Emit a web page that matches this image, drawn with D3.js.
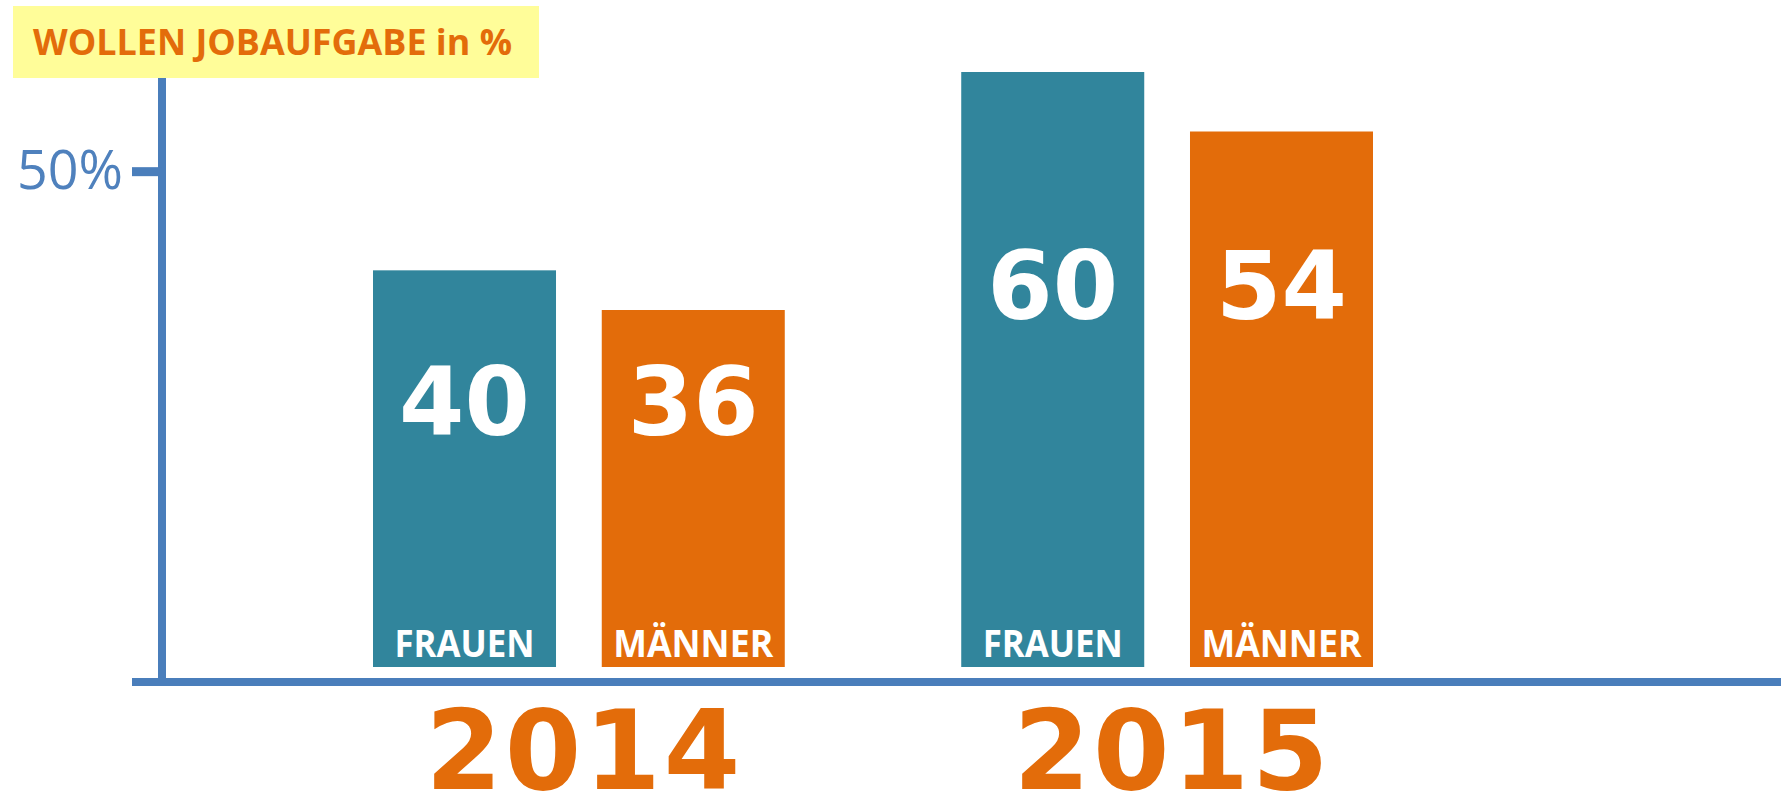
<!DOCTYPE html>
<html>
<head>
<meta charset="utf-8">
<script src="https://cdn.jsdelivr.net/npm/d3@7"></script>
<style>
  body { margin: 0; background: #fff; }
  svg { display: block; }
</style>
</head>
<body>
<svg id="chart" width="1785" height="795"></svg>
<script>
// data
const years = ["2014", "2015"];
const genders = ["FRAUEN", "MÄNNER"];
const frauen = [40, 60];
const maenner = [36, 54];
const yTicks = [50];
const title = "WOLLEN JOBAUFGABE in %";

const colors = { FRAUEN: "#31859C", "MÄNNER": "#E36C0A" };
const axisBlue = "#4A7EBB";
const orange = "#E36C0A";

const rows = years.map((yr, i) => ({ year: yr, values: [
  { gender: "FRAUEN", value: frauen[i] },
  { gender: "MÄNNER", value: maenner[i] }
]}));

const svg = d3.select("#chart");

const x0 = d3.scaleBand().domain(years).range([373, 1373]).paddingInner(0.3).paddingOuter(0);
const x1 = d3.scaleBand().domain(genders).range([0, x0.bandwidth()]).paddingInner(0.2);
const y = d3.scaleLinear().domain([0, 60]).range([667, 72]);

// title box
svg.append("rect")
  .attr("x", 13).attr("y", 6)
  .attr("width", 526).attr("height", 72)
  .style("fill", "#FFFD99");
svg.append("text")
  .attr("x", 33).attr("y", 55)
  .attr("textLength", 479).attr("lengthAdjust", "spacingAndGlyphs")
  .style("font-family", "'Open Sans', sans-serif")
  .style("font-weight", 700)
  .style("font-size", "36px")
  .style("fill", orange)
  .text(title);

// bars
const groups = svg.selectAll(".year")
  .data(rows)
  .enter()
  .append("g")
  .attr("class", "year")
  .attr("transform", d => `translate(${x0(d.year)},0)`);

groups.selectAll(".bar")
  .data(d => d.values)
  .enter()
  .append("rect")
  .attr("class", "bar")
  .attr("x", d => x1(d.gender))
  .attr("y", d => y(d.value))
  .attr("width", x1.bandwidth())
  .attr("height", d => y(0) - y(d.value))
  .style("fill", d => colors[d.gender]);

// big value labels, shared baseline inside each year group
groups.each(function(d) {
  const top = y(d3.max(d.values, v => v.value));
  const base = top + 0.415 * (y(0) - top);
  d3.select(this).selectAll(".val")
    .data(d.values)
    .enter()
    .append("text")
    .attr("class", "val")
    .attr("x", v => x1(v.gender) + x1.bandwidth() / 2)
    .attr("y", base)
    .attr("text-anchor", "middle")
    .style("font-family", "'DejaVu Sans', sans-serif")
    .style("font-weight", 700)
    .style("font-size", "94px")
    .style("fill", "#fff")
    .text(v => v.value);
});

// gender labels at bar bottom
groups.selectAll(".glabel")
  .data(d => d.values)
  .enter()
  .append("text")
  .attr("class", "glabel")
  .attr("x", d => x1(d.gender) + x1.bandwidth() / 2)
  .attr("y", y(0) - 10)
  .attr("text-anchor", "middle")
  .attr("textLength", d => d.gender === "FRAUEN" ? 140 : 160)
  .attr("lengthAdjust", "spacingAndGlyphs")
  .style("font-family", "'Open Sans', sans-serif")
  .style("font-weight", 700)
  .style("font-size", "37px")
  .style("fill", "#fff")
  .text(d => d.gender);

// year labels
svg.selectAll(".ylabel")
  .data(years)
  .enter()
  .append("text")
  .attr("class", "ylabel")
  .attr("x", d => x0(d) + x0.bandwidth() / 2 + 4)
  .attr("y", 789)
  .attr("text-anchor", "middle")
  .attr("textLength", 315).attr("lengthAdjust", "spacing")
  .style("font-family", "'DejaVu Sans', sans-serif")
  .style("font-weight", 700)
  .style("font-size", "110px")
  .style("fill", orange)
  .text(d => d);

// axes
const axisX = 162, baseY = 682;

svg.append("line")
  .attr("x1", 132).attr("x2", 1781)
  .attr("y1", baseY).attr("y2", baseY)
  .style("stroke", axisBlue).style("stroke-width", 8);

svg.append("line")
  .attr("x1", axisX).attr("x2", axisX)
  .attr("y1", 78).attr("y2", baseY + 4)
  .style("stroke", axisBlue).style("stroke-width", 8);

const yAxis = svg.append("g")
  .attr("transform", `translate(${axisX},0)`)
  .call(d3.axisLeft(y).tickValues(yTicks).tickSize(30).tickPadding(9).tickFormat(d => d + "%"));
yAxis.select(".domain").remove();
yAxis.selectAll(".tick line")
  .style("stroke", axisBlue).style("stroke-width", 9);
yAxis.selectAll(".tick text")
  .attr("textLength", 106).attr("lengthAdjust", "spacingAndGlyphs")
  .style("font-family", "'Open Sans', sans-serif")
  .style("font-size", "54px")
  .style("fill", "#4F81BD");
</script>
</body>
</html>
